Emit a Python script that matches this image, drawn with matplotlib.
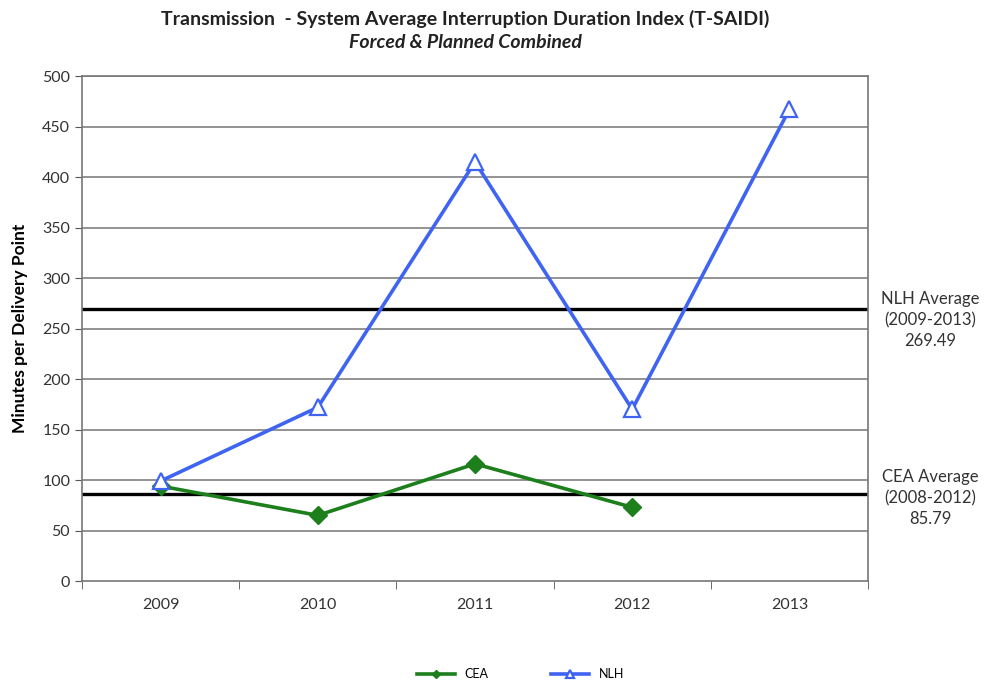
import matplotlib
matplotlib.use("Agg")
import matplotlib.pyplot as plt

years = ["2009", "2010", "2011", "2012", "2013"]
nlh = [99, 172, 415, 170, 467]
cea_years = ["2009", "2010", "2011", "2012"]
cea = [94, 65, 116, 73]
nlh_avg = 269.49
cea_avg = 85.79
yticks = [0, 50, 100, 150, 200, 250, 300, 350, 400, 450, 500]

plt.rcParams['font.family'] = ['Lato', 'DejaVu Sans']

fig = plt.figure(figsize=(9.92, 6.85), dpi=100)
ax = fig.add_axes([0.0827, 0.1518, 0.7923, 0.7372])

x_nlh = list(range(len(years)))
x_cea = [years.index(y) for y in cea_years]

for v in yticks[1:]:
    ax.axhline(v, color="#808080", lw=1.2, zorder=1)

ax.axhline(nlh_avg, color="black", lw=2.4, zorder=2)
ax.axhline(cea_avg, color="black", lw=2.4, zorder=2)

green = "#1c7f1c"
blue = "#3f64f2"
ax.plot(x_cea, cea, color=green, lw=2.6, marker="D", ms=9, mfc=green, mec=green, label="CEA", zorder=3)
ax.plot(x_nlh, nlh, color=blue, lw=2.6, marker="^", ms=12, mfc="white", mec=blue, mew=1.6, label="NLH", zorder=4)

ax.set_xlim(-0.5, 4.5)
ax.set_ylim(0, 500)
ax.set_yticks(yticks)
ax.set_xticks(x_nlh)
ax.set_xticklabels(years)
ax.set_xticks([i + 0.5 for i in range(-1, 5)], minor=True)
ax.tick_params(axis="x", which="major", length=0, pad=12, labelsize=11.5, colors="#333333")
ax.tick_params(axis="x", which="minor", length=6, direction="out", color="#555555")
ax.tick_params(axis="y", length=5, direction="out", labelsize=11.5, colors="#333333", color="#555555")
for s in ax.spines.values():
    s.set_color("#777777")
    s.set_linewidth(1.2)

ax.set_ylabel("Minutes per Delivery Point", fontsize=12.5, fontweight="bold", labelpad=10)

fig.text(0.469, 0.973, "Transmission  - System Average Interruption Duration Index (T-SAIDI)",
         ha="center", va="center", fontsize=14, fontweight="bold", color="#222222")
fig.text(0.469, 0.938, "Forced & Planned Combined", ha="center", va="center",
         fontsize=14, fontweight="bold", style="italic", color="#222222")

fig.text(0.938, 1 - 320 / 685, "NLH Average\n(2009-2013)\n269.49", ha="center", va="center",
         fontsize=12, color="#333333", linespacing=1.4)
fig.text(0.938, 1 - 498 / 685, "CEA Average\n(2008-2012)\n85.79", ha="center", va="center",
         fontsize=12, color="#333333", linespacing=1.4)

fig.legend(loc="center", bbox_to_anchor=(0.525, 1 - 674 / 685), ncol=2, frameon=False,
           fontsize=9, columnspacing=5, handlelength=3, markerscale=0.5)

fig.savefig("out.png", dpi=100)
